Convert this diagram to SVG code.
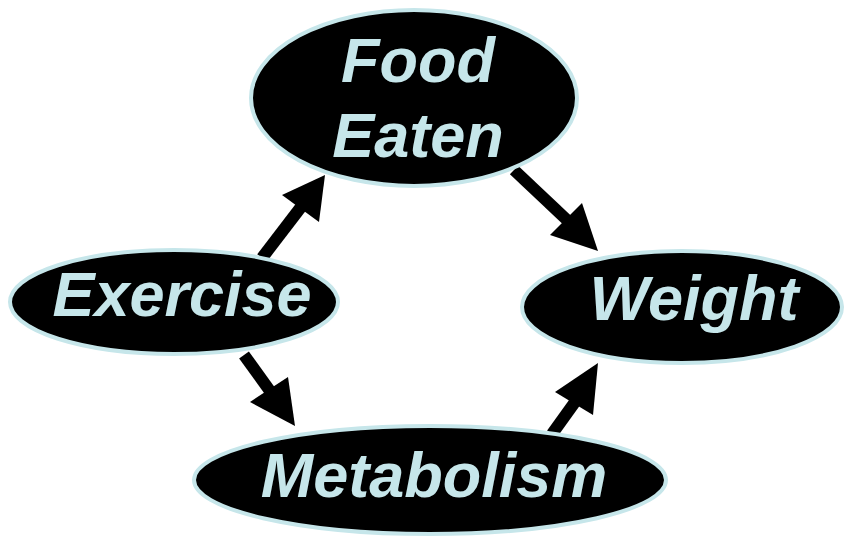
<svg xmlns="http://www.w3.org/2000/svg" width="844" height="537" viewBox="0 0 844 537">
<style>
.node{fill:#000;stroke:#c6e6ea;stroke-width:4}
.lbl{fill:#c6e6ea;font-family:"Liberation Sans",Arial,sans-serif;font-weight:bold;font-style:italic;font-size:63px;text-anchor:middle}
.shaft{stroke:#000;stroke-width:12;fill:none}
.head{fill:#000}
</style>
<rect width="844" height="537" fill="#fff"/>
<g id="connectors">
<g id="e-exercise-food"><line class="shaft" x1="262" y1="258" x2="301" y2="207"/><polygon class="head" points="325,175 282,195 319,222"/></g>
<g id="e-food-weight"><line class="shaft" x1="514" y1="170" x2="567" y2="220"/><polygon class="head" points="598,251 550,235 582,203"/></g>
<g id="e-exercise-metabolism"><line class="shaft" x1="244" y1="355" x2="270" y2="391"/><polygon class="head" points="295,426 250,402 288,377"/></g>
<g id="e-metabolism-weight"><line class="shaft" x1="552" y1="434" x2="575" y2="402"/><polygon class="head" points="598,363 555,392 593,415"/></g>
</g>
<g id="food"><ellipse class="node" cx="414" cy="98" rx="163" ry="88"/><text class="lbl" x="418" y="82">Food</text><text class="lbl" x="418" y="157">Eaten</text></g>
<g id="exercise"><ellipse class="node" cx="174" cy="302" rx="164" ry="52"/><text class="lbl" x="182" y="316">Exercise</text></g>
<g id="weight"><ellipse class="node" cx="682" cy="307" rx="160" ry="56"/><text class="lbl" x="694" y="320">Weight</text></g>
<g id="metabolism"><ellipse class="node" cx="430" cy="480" rx="236" ry="54"/><text class="lbl" x="434" y="497">Metabolism</text></g>
</svg>
